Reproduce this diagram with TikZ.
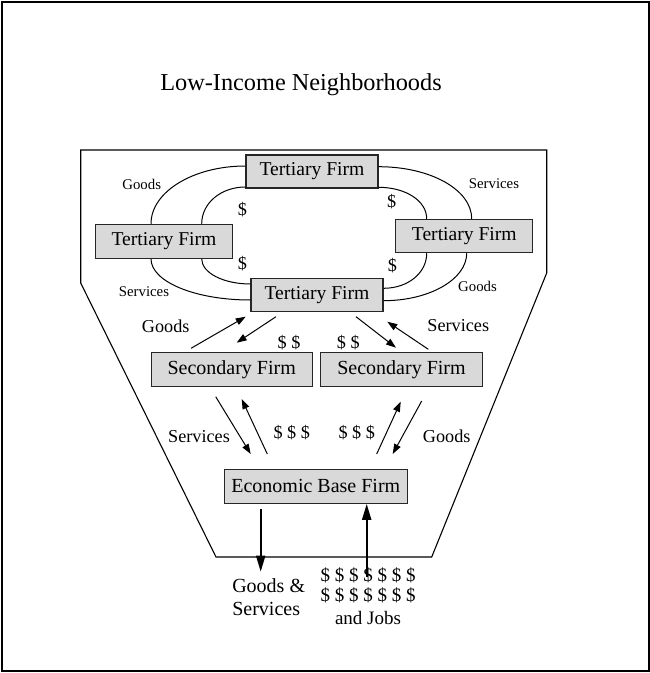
\documentclass[tikz,border=0pt]{standalone}
\usepackage{fontspec}
\setmainfont{Liberation Serif}
\usetikzlibrary{arrows.meta}
\definecolor{boxgray}{RGB}{217,217,217}
\newcommand{\fsz}[1]{\fontsize{#1}{#1}\selectfont}
\begin{document}
\begin{tikzpicture}[x=1pt,y=-1pt,
  firm/.style={draw=black!85,line width=1.1pt,fill=boxgray,inner sep=0pt,font=\fsz{19.6}},
  flow/.style={line width=1pt},
  arr/.style={line width=1pt,-{Triangle[length=10pt,width=7pt]}},
  bigarr/.style={line width=2pt,-{Triangle[length=16pt,width=9pt]}},
  smalllab/.style={inner sep=0pt,font=\fsz{14.8}},
  lab/.style={inner sep=0pt,font=\fsz{18.2}}]
\useasboundingbox (0,0) rectangle (650,673);

% outer frame and neighbourhood boundary
\draw[line width=2pt] (2,1.5) rectangle (648.5,670.5);
\draw[line width=1.1pt,line join=miter] (80.7,150) -- (546.7,150) -- (546.7,273)
  -- (431.7,557) -- (216,557) -- (80.7,283) -- cycle;

% title
\node[anchor=base,inner sep=0pt,font=\fsz{24.3}] (title) at (301,90.7) {Low-Income Neighborhoods};

% firms
\node[firm,minimum width=132pt,minimum height=33pt] (tt) at (312,171.5) {Tertiary Firm};
\node[firm,minimum width=137pt,minimum height=34pt] (tl) at (164,241.3) {Tertiary Firm};
\node[firm,minimum width=137pt,minimum height=33.4pt] (tr) at (464.3,236) {Tertiary Firm};
\node[firm,minimum width=132pt,minimum height=33.4pt] (tb) at (317,295) {Tertiary Firm};
\node[firm,minimum width=161pt,minimum height=34pt,font=\fsz{20}] (sl) at (231.7,369.7) {Secondary Firm};
\node[firm,minimum width=161.5pt,minimum height=34pt,font=\fsz{20}] (sr) at (401.5,369.7) {Secondary Firm};
\node[firm,minimum width=183pt,minimum height=34pt,font=\fsz{20}] (eb) at (315.8,486.3) {Economic Base Firm};

% outer ring of exchanges between tertiary firms
\draw[flow] ([yshift=5.5pt]tt.west) .. controls +(-52,0) and +(0,-32) .. ([xshift=-13pt]tl.north);
\draw[flow] ([xshift=-13pt]tl.south) .. controls +(0,23) and +(-55,0) .. ([yshift=-5pt]tb.west);
\draw[flow] ([yshift=4.8pt]tt.east) .. controls +(52,0) and +(0,-29) .. ([xshift=7.4pt]tr.north);
\draw[flow] ([xshift=2.4pt]tr.south) .. controls +(0,26) and +(46,0) .. ([yshift=-5.7pt]tb.east);
% inner ring (money)
\draw[flow] ([yshift=-15.5pt]tt.west) .. controls +(-24.5,0) and +(0,-20.6) .. ([xshift=37.7pt]tl.north);
\draw[flow] ([xshift=37.7pt]tl.south) .. controls +(0,14) and +(-27,0) .. ([yshift=11pt]tb.west);
\draw[flow] ([yshift=-15.8pt]tt.east) .. controls +(27,0) and +(0,-18) .. ([xshift=-37.6pt]tr.north);
\draw[flow] ([xshift=-37.6pt]tr.south) .. controls +(0,20) and +(24,0) .. ([yshift=6.7pt]tb.east);

\node[smalllab] (lg1) at (141.7,184) {Goods};
\node[smalllab] (ls1) at (494,184) {Services};
\node[smalllab] (ls2) at (144,291.5) {Services};
\node[smalllab] (lg2) at (477.5,286) {Goods};
\node[lab] (m1) at (242.3,210) {\$};
\node[lab] (m2) at (391.7,201.7) {\$};
\node[lab] (m3) at (242.3,263.3) {\$};
\node[lab] (m4) at (392.3,266) {\$};

% arrows between tertiary and secondary firms
\coordinate (g1s) at (191,348.3);   \coordinate (g1e) at (245.7,316.7);
\coordinate (d1s) at (276,316.7);   \coordinate (d1e) at (236.7,342.7);
\coordinate (d2s) at (356,316.7);   \coordinate (d2e) at (396,347.7);
\coordinate (s1s) at (428.3,349.3); \coordinate (s1e) at (387.3,321.7);
\draw[arr] (g1s) -- (g1e);
\draw[arr] (d1s) -- (d1e);
\draw[arr] (d2s) -- (d2e);
\draw[arr] (s1s) -- (s1e);
\node[lab] (lg3) at (165.7,326) {Goods};
\node[lab] (ls3) at (458.3,326) {Services};
\node[lab] (m5) at (289,342.3) {\$ \$};
\node[lab] (m6) at (348.3,342.3) {\$ \$};

% arrows between secondary firms and the economic base firm
\coordinate (s2s) at (215.7,396.7); \coordinate (s2e) at (250.7,454);
\coordinate (d3s) at (267.3,454);   \coordinate (d3e) at (241.7,399);
\coordinate (d4s) at (376.7,454);   \coordinate (d4e) at (400.7,401.7);
\coordinate (g2s) at (421.7,401);   \coordinate (g2e) at (392.7,454);
\draw[arr] (s2s) -- (s2e);
\draw[arr] (d3s) -- (d3e);
\draw[arr] (d4s) -- (d4e);
\draw[arr] (g2s) -- (g2e);
\node[lab] (ls4) at (199,436.7) {Services};
\node[lab] (m7) at (291.7,432.3) {\$ \$ \$};
\node[lab] (m8) at (356.7,432.3) {\$ \$ \$};
\node[lab] (lg4) at (446.7,436.7) {Goods};

% exports and imports of the economic base firm
\coordinate (outEnd) at (260.7,571.7);
\coordinate (inStart) at (366.7,577);
\draw[bigarr] (eb.south -| outEnd) ++(0,5) -- (outEnd);
\draw[bigarr] (inStart) -- (inStart |- eb.south);
\node[inner sep=0pt,align=left,font=\fontsize{20}{23.3}\selectfont] (exp) at (268.7,597.5) {Goods \&\\Services};
\node[inner sep=0pt,align=center,font=\fontsize{19}{20}\selectfont] (imp) at (368,596) {\$ \$ \$ \$ \$ \$ \$\\\$ \$ \$ \$ \$ \$ \$\\[3.5pt]and Jobs};
\end{tikzpicture}
\end{document}
